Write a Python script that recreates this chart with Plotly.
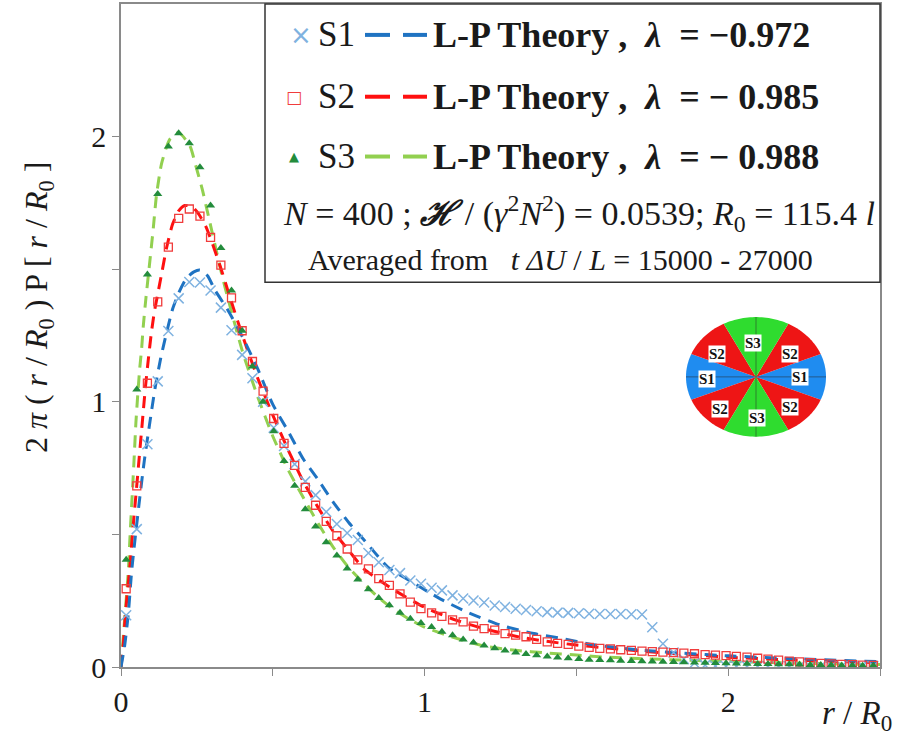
import numpy as np
import plotly.graph_objects as go

# ---------------- data ----------------
r_bins = [0.017, 0.052, 0.087, 0.121, 0.156, 0.19, 0.225, 0.26, 0.295, 0.329, 0.364, 0.399,
          0.433, 0.468, 0.503, 0.537, 0.572, 0.607, 0.641, 0.676, 0.711, 0.745, 0.78, 0.815,
          0.849, 0.884, 0.919, 0.953, 0.988, 1.023, 1.057, 1.092, 1.127, 1.161, 1.196, 1.231,
          1.265, 1.3, 1.334, 1.369, 1.404, 1.438, 1.473, 1.508, 1.542, 1.577, 1.612, 1.646,
          1.681, 1.716, 1.75, 1.785, 1.82, 1.854, 1.889, 1.924, 1.958, 1.993, 2.027, 2.062,
          2.097, 2.131, 2.166, 2.201, 2.235, 2.27, 2.305, 2.339, 2.374, 2.409, 2.443, 2.478]

s1_vals = [0.195, 0.52, 0.84, 1.077, 1.267, 1.39, 1.452, 1.45, 1.42, 1.355, 1.27, 1.177,
           1.089, 1.0, 0.902, 0.833, 0.765, 0.70, 0.648, 0.585, 0.539, 0.505, 0.479, 0.43,
           0.395, 0.366, 0.354, 0.326, 0.314, 0.299, 0.289, 0.27, 0.258, 0.251, 0.243, 0.232,
           0.226, 0.22, 0.215, 0.21, 0.207, 0.205, 0.204, 0.203, 0.201, 0.2, 0.2, 0.2,
           0.199, 0.198, 0.15, 0.088, 0.055, 0.03, 0.015, 0.007, 0.004, 0.003, 0.003, 0.003,
           0.003, 0.003, 0.003, 0.003, 0.003, 0.003, 0.003, 0.003, 0.003, 0.003, 0.003, 0.003]

s2_vals = [0.295, 0.683, 1.07, 1.377, 1.583, 1.692, 1.727, 1.70, 1.62, 1.515, 1.392, 1.268,
           1.152, 1.04, 0.937, 0.843, 0.76, 0.677, 0.61, 0.549, 0.495, 0.445, 0.404, 0.37,
           0.333, 0.308, 0.276, 0.245, 0.22, 0.204, 0.191, 0.178, 0.17, 0.154, 0.145, 0.139,
           0.126, 0.12, 0.114, 0.104, 0.095, 0.089, 0.085, 0.079, 0.074, 0.07, 0.068, 0.065,
           0.063, 0.06, 0.058, 0.056, 0.054, 0.052, 0.05, 0.047, 0.045, 0.043, 0.04, 0.037,
           0.033, 0.03, 0.026, 0.022, 0.019, 0.016, 0.014, 0.012, 0.01, 0.009, 0.007, 0.006]

s3_vals = [0.404, 1.046, 1.48, 1.784, 1.963, 2.013, 1.975, 1.884, 1.74, 1.58, 1.42, 1.268,
           1.133, 1.0, 0.889, 0.777, 0.683, 0.595, 0.53, 0.47, 0.42, 0.371, 0.33, 0.293,
           0.26, 0.233, 0.205, 0.182, 0.166, 0.151, 0.133, 0.12, 0.104, 0.092, 0.081, 0.071,
           0.062, 0.055, 0.049, 0.044, 0.04, 0.036, 0.033, 0.03, 0.027, 0.026, 0.025, 0.024,
           0.023, 0.022, 0.021, 0.02, 0.019, 0.018, 0.017, 0.016, 0.015, 0.014, 0.013, 0.012,
           0.011, 0.011, 0.01, 0.01, 0.009, 0.008, 0.008, 0.007, 0.006, 0.006, 0.005, 0.005]

lp1_r = [0, 0.012, 0.024, 0.035, 0.048, 0.062, 0.077, 0.096, 0.112, 0.13, 0.15, 0.17, 0.19,
         0.215, 0.24, 0.26, 0.285, 0.31, 0.35, 0.4, 0.45, 0.5, 0.55, 0.6, 0.65, 0.7, 0.75,
         0.8, 0.88, 0.95, 1.05, 1.14, 1.25, 1.36, 1.45, 1.55, 1.7, 1.85, 2.0, 2.2, 2.5]
lp1_v = [0, 0.08, 0.2, 0.36, 0.5, 0.64, 0.78, 0.93, 1.05, 1.16, 1.26, 1.35, 1.41,
         1.465, 1.49, 1.497, 1.475, 1.42, 1.35, 1.245, 1.125, 0.99, 0.89, 0.785, 0.705, 0.62, 0.545,
         0.48, 0.376, 0.326, 0.258, 0.207, 0.158, 0.126, 0.108, 0.085, 0.065, 0.052, 0.042, 0.032, 0.02]

lp2_r = [0, 0.008, 0.012, 0.02, 0.03, 0.04, 0.05, 0.06, 0.07, 0.08, 0.09, 0.1, 0.11, 0.12,
         0.135, 0.15, 0.17, 0.19, 0.21, 0.235, 0.255, 0.28, 0.3, 0.33, 0.36, 0.4, 0.45, 0.5,
         0.55, 0.6, 0.65, 0.7, 0.75, 0.8, 0.9, 1.0, 1.1, 1.2, 1.3, 1.4, 1.5, 1.6, 1.8, 2.0, 2.2, 2.5]
lp2_v = [0, 0.09, 0.16, 0.27, 0.39, 0.53, 0.66, 0.79, 0.92, 1.05, 1.16, 1.26, 1.34, 1.40,
         1.49, 1.58, 1.67, 1.72, 1.74, 1.735, 1.71, 1.66, 1.60, 1.5, 1.39, 1.25, 1.09, 0.95,
         0.82, 0.70, 0.6, 0.51, 0.44, 0.37, 0.29, 0.225, 0.178, 0.143, 0.116, 0.097, 0.083, 0.072,
         0.052, 0.037, 0.027, 0.016]

lp3_r = [0, 0.01, 0.024, 0.03, 0.037, 0.043, 0.049, 0.056, 0.062, 0.068, 0.073, 0.082, 0.095,
         0.106, 0.117, 0.134, 0.161, 0.19, 0.227, 0.244, 0.268, 0.288, 0.31, 0.332, 0.35, 0.4,
         0.45, 0.5, 0.55, 0.6, 0.65, 0.7, 0.75, 0.8, 0.85, 0.9, 0.95, 1.0, 1.1, 1.2, 1.3, 1.4,
         1.5, 1.6, 1.8, 2.0, 2.2, 2.5]
lp3_v = [0, 0.15, 0.36, 0.5, 0.65, 0.78, 0.92, 1.04, 1.13, 1.2, 1.28, 1.39, 1.53,
         1.65, 1.78, 1.9, 1.99, 2.015, 1.965, 1.9, 1.8, 1.7, 1.59, 1.48, 1.4, 1.19,
         1.02, 0.87, 0.745, 0.64, 0.54, 0.45, 0.375, 0.315, 0.26, 0.215, 0.18, 0.15, 0.11, 0.078,
         0.063, 0.053, 0.045, 0.037, 0.028, 0.021, 0.015, 0.009]

tick_vals = [0, 1, 2]
tick_text = ["0", "1", "2"]

legend_labels = ["S1", "S2", "S3"]
theory_labels = ["L-P Theory ,  <i>λ</i>  = −0.972", "L-P Theory ,  <i>λ</i>  = − 0.985",
                 "L-P Theory ,  <i>λ</i>  = − 0.988"]

# ---------------- styles ----------------
C_S1 = "#7fb2e0"
C_LP1 = "#1f73c2"
C_S2 = "#f03c3c"
C_LP2 = "#ff1010"
C_S3 = "#238c3c"
C_LP3 = "#92d050"
SERIF = "Liberation Serif"
AX = "#8a8a8a"
TXT = "#1a1a1a"

W, H = 902, 738
L, R, T, B = 121, 22, 2, 71
PW, PH = W - L - R, H - T - B


def px(x):
    return (x - L) / PW


def py(y):
    return (H - B - y) / PH


fig = go.Figure()
dash = "12px,8px"
for rr, vv, c in [(lp3_r, lp3_v, C_LP3), (lp2_r, lp2_v, C_LP2), (lp1_r, lp1_v, C_LP1)]:
    fig.add_trace(go.Scatter(x=rr, y=vv, mode="lines", line=dict(color=c, width=3, dash=dash,
                                                                  shape="spline", smoothing=0.6),
                             showlegend=False, hoverinfo="skip"))

fig.add_trace(go.Scatter(x=r_bins, y=s1_vals, mode="markers",
                         marker=dict(symbol="x-thin-open", size=10, color=C_S1,
                                     line=dict(color=C_S1, width=1.5)),
                         showlegend=False))
fig.add_trace(go.Scatter(x=r_bins, y=s2_vals, mode="markers",
                         marker=dict(symbol="square-open", size=8, color=C_S2, line=dict(color=C_S2, width=1.3)),
                         showlegend=False))
fig.add_trace(go.Scatter(x=r_bins, y=s3_vals, mode="markers",
                         marker=dict(symbol="triangle-up", size=8, color=C_S3),
                         showlegend=False))

axis_common = dict(range=[0, 2.5], tickvals=tick_vals, ticktext=tick_text, ticks="outside",
                   ticklen=7, tickcolor=AX, tickwidth=1.3, showline=True, linecolor=AX, linewidth=1.5,
                   mirror=True, showgrid=False, zeroline=False,
                   minor=dict(tickvals=[0.5, 1.5, 2.5], ticks="outside", ticklen=7, tickcolor=AX,
                              tickwidth=1.3, showgrid=False),
                   tickfont=dict(family=SERIF, size=30, color=TXT))
fig.update_xaxes(**axis_common)
fig.update_yaxes(**axis_common)
fig.update_yaxes(minor=dict(tickvals=[0.5, 1.5]))

shapes = []
annotations = []


def ann(x, y, text, size, xanchor="center", family=SERIF, color=TXT, **kw):
    d = dict(x=px(x), y=py(y), xref="paper", yref="paper", text=text, showarrow=False,
             xanchor=xanchor, yanchor="middle", font=dict(family=family, size=size, color=color))
    d.update(kw)
    annotations.append(d)


# axis titles
ann(38, 307, "2 <i>π</i> ( <i>r</i> / <i>R</i><sub>0</sub> ) P [ <i>r</i> / <i>R</i><sub>0</sub> ]", 32,
    textangle=-90)
ann(857, 716, "<i>r</i> / <i>R</i><sub>0</sub>", 33)

# legend box
shapes.append(dict(type="rect", xref="paper", yref="paper", x0=px(265), x1=px(880), y0=py(281), y1=py(2),
                   line=dict(color="#333", width=1.5), fillcolor="white", layer="above"))

rows_y = [33, 95, 155]
mk_text = ["×", "□", "▲"]
mk_col = [C_S1, C_S2, C_S3]
mk_x = [301, 294, 294]
mk_size = [26, 17, 13]
ln_col = [C_LP1, C_LP2, C_LP3]
for i, yy in enumerate(rows_y):
    ann(mk_x[i], yy, mk_text[i], mk_size[i], family="DejaVu Sans", color=mk_col[i])
    ann(316, yy, legend_labels[i], 35, xanchor="left")
    for (a, b) in [(365, 390), (403, 427)]:
        shapes.append(dict(type="line", xref="paper", yref="paper", x0=px(a), x1=px(b), y0=py(yy),
                           y1=py(yy), line=dict(color=ln_col[i], width=4), layer="above"))
    ann(431, yy, "<b>" + theory_labels[i] + "</b>", 36, xanchor="left")

ann(281, 212, "<i>N</i> = 400 ; <b><i>ℋ</i></b> / (<i>γ</i><sup>2</sup><i>N</i><sup>2</sup>) = 0.0539; "
              "<i>R</i><sub>0</sub> = 115.4 <i>l</i>", 34, xanchor="left")
ann(306, 258, "Averaged from   <i>t ΔU</i> / <i>L</i> = 15000 - 27000", 30, xanchor="left")

# inset sector diagram
cx, cy, rx, ry = 756, 376, 70, 60
sectors = [(-22.5, 22.5, "#1f8cf0"), (157.5, 202.5, "#1f8cf0"),
           (22.5, 62.5, "#ee1515"), (117.5, 157.5, "#ee1515"),
           (202.5, 242.5, "#ee1515"), (297.5, 337.5, "#ee1515"),
           (62.5, 117.5, "#2fdc2f"), (242.5, 297.5, "#2fdc2f")]
for a0, a1, col in sectors:
    angs = np.radians(np.linspace(a0, a1, 30))
    pts = [(px(cx), py(cy))] + [(px(cx + rx * np.cos(t)), py(cy - ry * np.sin(t))) for t in angs]
    path = "M " + " L ".join(f"{x:.5f},{y:.5f}" for x, y in pts) + " Z"
    shapes.append(dict(type="path", xref="paper", yref="paper", path=path, fillcolor=col,
                       line=dict(width=0), layer="above"))
shapes.append(dict(type="line", xref="paper", yref="paper", x0=px(cx - rx), x1=px(cx + rx), y0=py(cy), y1=py(cy),
                   line=dict(color="rgba(40,40,40,0.5)", width=1), layer="above"))
shapes.append(dict(type="line", xref="paper", yref="paper", x0=px(cx), x1=px(cx), y0=py(cy - ry), y1=py(cy + ry),
                   line=dict(color="rgba(40,40,40,0.5)", width=1), layer="above"))
inset_labels = [("S3", 753, 342), ("S2", 717, 353), ("S2", 790, 353), ("S1", 707, 378),
                ("S1", 800, 376), ("S2", 720, 408), ("S3", 757, 417), ("S2", 790, 406)]
for t, x, y in inset_labels:
    ann(x, y, "<b>" + t + "</b>", 15, bgcolor="white", borderpad=0, color="#111")

fig.update_layout(width=W, height=H, margin=dict(l=L, r=R, t=T, b=B), paper_bgcolor="white",
                  plot_bgcolor="white", showlegend=False, shapes=shapes, annotations=annotations)

fig.write_html("out.html")
